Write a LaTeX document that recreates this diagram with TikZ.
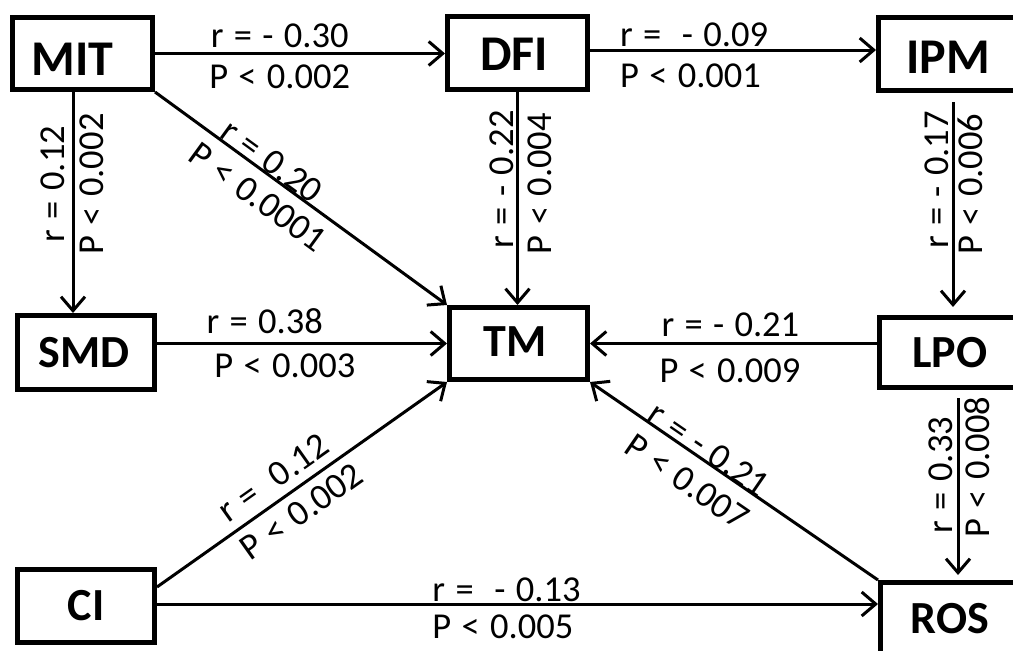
\documentclass[tikz,border=0pt]{standalone}
\usepackage{fontspec}
\setmainfont{Carlito}
\newfontfamily\lblfont{Carlito}[WordSpace=1.25]
\usetikzlibrary{arrows.meta,calc}
\tikzset{
  box/.style={draw, line width=5pt, inner sep=0pt, text depth=0pt},
  topf/.style={font=\fontsize{50pt}{56pt}\selectfont\bfseries},
  midf/.style={font=\fontsize{46pt}{52pt}\selectfont\bfseries},
  arr/.style={line width=3pt, -{Straight Barb[length=14pt,width=24pt]}},
  arrL/.style={line width=3pt, {Straight Barb[length=14pt,width=24pt]}-},
  lbl/.style={font=\lblfont\fontsize{36.5pt}{40pt}\selectfont, inner sep=0pt}
}
\begin{document}
\begin{tikzpicture}[x=1pt,y=-1pt]
\fill[white] (0,0) rectangle (1013,651);
\useasboundingbox (0,0) rectangle (1013,651);
\clip (0,0) rectangle (1013,651);

% boxes
\node[box, topf, minimum width=140pt, minimum height=72pt, text height=43.6pt] (MIT) at (82.5,53.5) {MIT\kern20pt};
\node[box, topf, minimum width=140pt, minimum height=73pt, text height=34.6pt] (DFI) at (517.5,53) {DFI\kern7pt};
\node[box, topf, minimum width=139pt, minimum height=73pt, text height=38.6pt] (IPM) at (948,54) {IPM};
\node[box, midf, minimum width=137pt, minimum height=74pt, text height=29pt] (SMD) at (86,352.5) {SMD\kern4pt};
\node[box, midf, minimum width=138pt, minimum height=72pt, text height=29pt, text depth=4pt] (TM) at (518.5,343.5) {TM\kern7pt};
\node[box, midf, minimum width=141pt, minimum height=70pt, text height=29pt] (LPO) at (950,352.5) {LPO};
\node[box, midf, minimum width=137pt, minimum height=73pt, text height=29pt] (CI) at (86,606) {CI};
\node[box, midf, minimum width=139pt, minimum height=73pt, text height=29pt] (ROS) at (950,619) {ROS};

% helper coordinates
\coordinate (d1) at ([yshift=3pt]DFI.east);
\coordinate (m1) at ([xshift=-9.5pt]MIT.south);
\coordinate (i1) at ([xshift=5pt,yshift=-9pt]IPM.south);
\coordinate (i2) at ([yshift=8pt]LPO.north);
\coordinate (l1) at ([xshift=8pt,yshift=-8pt]LPO.south);
\coordinate (r1) at ([yshift=5pt]ROS.north);
\coordinate (c1) at ([yshift=2pt]CI.east);
\coordinate (c2) at ([yshift=-20pt]CI.north east);

% horizontal connectors
\draw[arr] (MIT.east) -- (MIT.east -| DFI.west)
  node[lbl, pos=0.43, anchor=south, yshift=4.5pt] {r = - 0.30}
  node[lbl, pos=0.43, anchor=north, yshift=-9.5pt] {P < 0.002};
\draw[arr] (d1) -- (d1 -| IPM.west)
  node[lbl, pos=0.1, anchor=south west, yshift=2pt] {r = ~- 0.09}
  node[lbl, pos=0.1, anchor=north west, yshift=-12pt] {P < 0.001};
\draw[arr] (SMD.east |- TM.west) -- (TM.west)
  node[lbl, pos=0.166, anchor=south west, yshift=8.5pt] {r = 0.38}
  node[lbl, pos=0.193, anchor=north west, yshift=-8.5pt] {P < 0.003};
\draw[arrL] (TM.east) -- (TM.east -| LPO.west)
  node[lbl, pos=0.244, anchor=south west, yshift=5.5pt] {r = - 0.21}
  node[lbl, pos=0.237, anchor=north west, yshift=-13.5pt] {P < 0.009};
\draw[arr] (c1) -- (c1 -| ROS.west)
  node[lbl, pos=0.38, anchor=south west, yshift=1pt] {r = ~- 0.13}
  node[lbl, pos=0.38, anchor=north west, yshift=-9pt] {P < 0.005};

% vertical connectors
\draw[arr] (m1) -- (m1 |- SMD.north)
  node[lbl, pos=0.416, rotate=90, anchor=south, outer sep=8pt] {r = 0.12}
  node[lbl, pos=0.416, rotate=90, anchor=north, outer sep=7pt] {P < 0.002};
\draw[arr] (DFI.south) -- (DFI.south |- TM.north)
  node[lbl, pos=0.41, rotate=90, anchor=south, outer sep=4pt] {r = - 0.22}
  node[lbl, pos=0.43, rotate=90, anchor=north, outer sep=10pt] {P < 0.004};
\draw[arr] (i1) -- (i1 |- i2)
  node[lbl, pos=0.38, rotate=90, anchor=south, outer sep=4pt] {r = - 0.17}
  node[lbl, pos=0.40, rotate=90, anchor=north, outer sep=5pt] {P < 0.006};
\draw[arr] (l1) -- (l1 |- r1)
  node[lbl, pos=0.435, rotate=90, anchor=south, outer sep=5pt] {r = 0.33}
  node[lbl, pos=0.39, rotate=90, anchor=north, outer sep=7pt] {P < 0.008};

% diagonal connectors
\draw[arr] (MIT.south east) -- (TM.north west)
  node[lbl, pos=0.374, sloped, anchor=south, outer sep=1pt] {r = 0.20}
  node[lbl, pos=0.40, sloped, anchor=north, outer sep=12pt] {P < 0.0001};
\draw[arr] (c2) -- (TM.south west)
  node[lbl, pos=0.445, sloped, anchor=south, outer sep=10pt] {r = ~0.12}
  node[lbl, pos=0.455, sloped, anchor=north, outer sep=10pt] {P < 0.002};
\draw[arrL] (TM.south east) -- (ROS.north west)
  node[lbl, pos=0.39, sloped, anchor=south, outer sep=0pt] {r = - 0.21}
  node[lbl, pos=0.39, sloped, anchor=north, outer sep=15pt] {P < 0.007};
\end{tikzpicture}
\end{document}
